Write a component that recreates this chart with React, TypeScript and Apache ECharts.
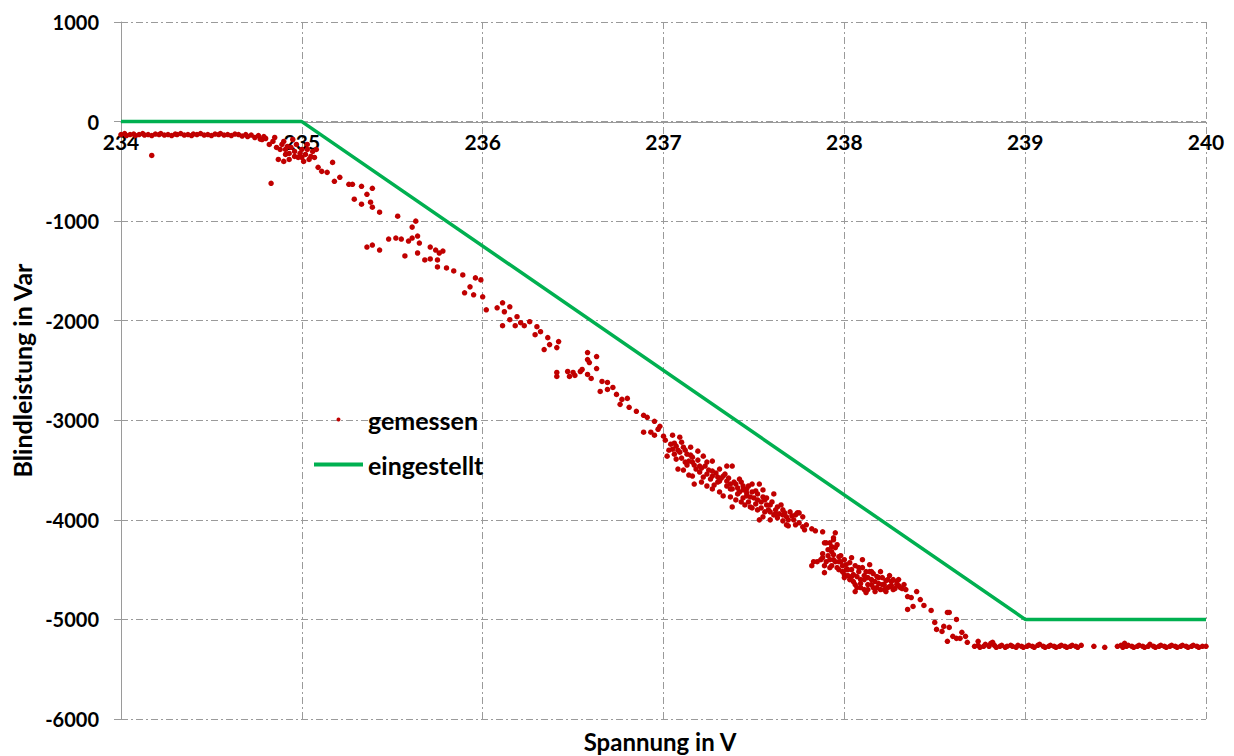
import React, { useEffect, useRef } from "react";
import * as echarts from "echarts";

const xTicks = [234, 235, 236, 237, 238, 239, 240];
const yTicks = [-6000, -5000, -4000, -3000, -2000, -1000, 0, 1000];

// eingestellt (set characteristic)
const setCurve: [number, number][] = [
  [234, 0], [235, 0], [239, -5000], [240, -5000],
];

const measuredStart: [number, number][] = [
  [234.00, -130], [234.02, -120], [234.03, -140], [234.05, -130], [234.07, -125], [234.08, -140],
  [234.10, -130], [234.12, -120], [234.13, -135], [234.15, -130], [234.17, -140], [234.19, -125],
  [234.21, -130], [234.22, -120], [234.24, -135], [234.26, -130], [234.28, -140], [234.30, -125],
  [234.31, -130], [234.33, -120], [234.35, -135], [234.37, -130], [234.39, -140], [234.40, -125],
  [234.42, -130], [234.44, -120], [234.46, -135], [234.48, -130], [234.50, -140], [234.52, -125],
  [234.54, -130], [234.55, -120], [234.57, -135], [234.59, -130], [234.61, -140], [234.63, -125],
  [234.65, -130], [234.67, -145], [234.69, -130], [234.70, -150], [234.72, -135], [234.74, -160],
  [234.76, -140], [234.77, -175], [234.79, -150],
  [234.17, -340], [234.83, -620],
];

const measuredKnee: [number, number][] = [
  [234.78, -180], [234.82, -230], [234.85, -160], [234.88, -280], [234.90, -200], [234.91, -330],
  [234.92, -250], [234.93, -380], [234.95, -180], [234.96, -300], [234.97, -230], [234.98, -360],
  [235.00, -280], [235.01, -400], [235.02, -330], [235.03, -230], [235.04, -380], [235.06, -300],
  [235.07, -360], [235.08, -280], [234.87, -380], [234.90, -400],
  [234.80, -170], [234.84, -200], [234.86, -260], [234.89, -230], [234.91, -280], [234.94, -260],
  [234.96, -350], [234.99, -320], [235.00, -360], [235.03, -280], [235.05, -350], [234.93, -320],
];

const measuredSlope1: [number, number][] = [
  [235.09, -460], [235.11, -500], [235.14, -510], [235.17, -410], [235.18, -600], [235.21, -560],
  [235.26, -630], [235.28, -630], [235.33, -650], [235.39, -670], [235.36, -730], [235.29, -780],
  [235.33, -830], [235.38, -810], [235.39, -860], [235.43, -910], [235.53, -950], [235.63, -1000],
  [235.61, -1060], [235.64, -1150], [235.36, -1260], [235.39, -1240], [235.43, -1290], [235.48, -1180],
  [235.52, -1170], [235.55, -1180], [235.59, -1200], [235.61, -1170], [235.57, -1350], [235.64, -1320],
  [235.65, -1220], [235.68, -1390], [235.71, -1260], [235.74, -1290], [235.76, -1320], [235.78, -1300],
  [235.75, -1390], [235.71, -1380], [235.75, -1460], [235.80, -1470], [235.84, -1500], [235.89, -1540],
  [235.96, -1570], [235.99, -1590], [235.93, -1660], [235.90, -1720], [235.95, -1740], [236.00, -1760],
  [236.02, -1890], [236.08, -1870], [236.11, -1820], [236.15, -1860], [236.12, -1910], [236.19, -1960],
  [236.11, -2050], [236.15, -1990], [236.18, -2050], [236.21, -2020], [236.23, -2050], [236.26, -2010],
  [236.30, -2060], [236.29, -2140], [236.32, -2110], [236.36, -2170], [236.37, -2240], [236.34, -2290],
  [236.41, -2270], [236.42, -2210], [236.41, -2520], [236.47, -2510], [236.50, -2520], [236.54, -2510],
  [236.58, -2540], [236.58, -2320], [236.58, -2390], [236.59, -2420], [236.63, -2360], [236.63, -2480],
  [236.51, -2550], [236.55, -2490], [236.48, -2560], [236.41, -2560],
];

const measuredSlope2: [number, number][] = [
  [236.60, -2580], [236.66, -2610], [236.69, -2620], [236.65, -2710], [236.69, -2690], [236.72, -2670],
  [236.74, -2740], [236.77, -2790], [236.80, -2780], [236.76, -2840], [236.81, -2870], [236.85, -2910],
  [236.89, -2950], [236.91, -2970], [236.95, -3010], [236.98, -3060], [236.97, -3090], [236.89, -3120],
  [236.93, -3120], [236.95, -3150], [237.00, -3160], [237.05, -3150], [237.09, -3170], [237.04, -3240],
  [237.07, -3260], [237.11, -3270], [237.02, -3360], [237.06, -3340], [237.09, -3320], [237.13, -3340],
  [237.16, -3370], [237.19, -3310], [237.08, -3490], [237.12, -3420], [237.16, -3420], [237.20, -3460],
  [237.24, -3420], [237.22, -3360], [237.27, -3410], [237.16, -3560], [237.17, -3640], [237.20, -3520],
  [237.24, -3540], [237.27, -3510], [237.31, -3490], [237.35, -3460], [237.38, -3460], [237.30, -3570],
  [237.33, -3560], [237.24, -3660], [237.27, -3690], [237.31, -3720], [237.35, -3660], [237.38, -3690],
  [237.42, -3590], [237.44, -3660], [237.46, -3690], [237.49, -3640], [237.53, -3640], [237.37, -3770],
  [237.41, -3740], [237.44, -3780], [237.48, -3770], [237.52, -3800], [237.55, -3770], [237.61, -3740],
  [237.38, -3870], [237.45, -3850], [237.49, -3880], [237.52, -3900], [237.57, -3850], [237.59, -3920],
  [237.63, -3870], [237.66, -3900], [237.70, -3920], [237.55, -3970], [237.63, -3980], [237.68, -3970],
  [237.72, -4000], [237.69, -4060], [237.75, -4030], [237.79, -4050], [237.75, -3930], [237.82, -4090],
  [237.88, -4120], [237.95, -4130], [237.94, -4180], [237.90, -4230], [237.93, -4270],
  [237.05, -3290], [237.07, -3390], [237.10, -3220], [237.14, -3410], [237.15, -3270], [237.18, -3490],
  [237.22, -3570], [237.26, -3590], [237.31, -3610], [237.35, -3610], [237.37, -3690], [237.40, -3640],
  [237.42, -3720], [237.46, -3730], [237.40, -3800], [237.51, -3710], [237.47, -3820], [237.51, -3840],
  [237.54, -3880], [237.56, -3800], [237.59, -3850], [237.62, -3940], [237.66, -3950], [237.59, -4000],
  [237.73, -3950], [237.78, -4100], [237.84, -4110], [237.53, -4000],
];

const measuredBand: [number, number][] = [
  [237.01, -3200], [237.03, -3300], [237.06, -3230], [237.08, -3300], [237.10, -3380], [237.12, -3300],
  [237.13, -3450], [237.15, -3350], [237.17, -3450], [237.19, -3400], [237.21, -3480], [237.23, -3460],
  [237.25, -3500], [237.27, -3560], [237.29, -3530], [237.30, -3620], [237.32, -3580], [237.34, -3540],
  [237.36, -3580], [237.37, -3640], [237.39, -3620], [237.41, -3680], [237.43, -3620], [237.44, -3700],
  [237.46, -3760], [237.47, -3660], [237.49, -3720], [237.50, -3780], [237.52, -3740], [237.54, -3820],
  [237.55, -3700], [237.57, -3780], [237.58, -3900], [237.60, -3820], [237.62, -3900], [237.64, -3940],
  [237.65, -3850], [237.67, -3930], [237.69, -4000], [237.71, -3960], [237.11, -3500], [237.14, -3550],
  [237.21, -3620], [237.28, -3650], [237.33, -3760], [237.43, -3820], [237.48, -3870], [237.56, -3920],
  [237.61, -3950], [237.66, -4010],
];

const measuredCluster: [number, number][] = [
  [237.74, -3930], [237.77, -3970], [237.68, -4050], [237.73, -4050], [237.77, -4070], [237.89, -4230],
  [237.92, -4230], [237.94, -4200], [237.83, -4420], [237.88, -4380], [237.92, -4400], [237.94, -4350],
  [237.97, -4370], [237.89, -4530], [237.92, -4480],
  [237.88, -4340], [237.90, -4420], [237.93, -4320], [237.95, -4420], [237.98, -4360], [237.99, -4460],
  [238.00, -4400], [238.02, -4500], [238.03, -4430], [238.05, -4550], [238.06, -4460], [238.08, -4520],
  [238.09, -4600], [238.10, -4480], [238.11, -4560], [238.13, -4650], [238.14, -4520], [238.15, -4600],
  [238.16, -4680], [238.18, -4570], [238.19, -4640], [238.20, -4700], [238.21, -4580], [238.22, -4650],
  [238.23, -4720], [238.24, -4600], [238.25, -4670], [238.26, -4620], [238.27, -4700], [238.29, -4650],
  [238.30, -4600], [238.31, -4680], [238.00, -4550], [238.03, -4600], [238.06, -4650], [238.09, -4680],
  [237.97, -4500], [238.00, -4580], [238.13, -4700], [238.17, -4720], [238.10, -4400], [238.14, -4450],
  [238.20, -4520], [238.25, -4560], [238.04, -4380], [237.91, -4300], [237.95, -4280], [238.06, -4720],
  [238.12, -4730], [237.85, -4420], [237.82, -4460], [237.96, -4250],
];

const measuredBlob: [number, number][] = [
  [237.87, -4400], [237.89, -4460], [237.91, -4360], [237.93, -4460], [237.94, -4400], [237.96, -4480],
  [237.97, -4420], [237.99, -4520], [238.01, -4450], [238.02, -4560], [238.04, -4500], [238.05, -4620],
  [238.07, -4570], [238.08, -4480], [238.09, -4640], [238.11, -4600], [238.12, -4520], [238.13, -4580],
  [238.15, -4650], [238.16, -4540], [238.17, -4620], [238.18, -4680], [238.19, -4580], [238.21, -4650],
  [238.22, -4700], [238.23, -4610], [238.24, -4680], [238.26, -4660], [238.27, -4600], [238.28, -4690],
  [238.29, -4620], [238.30, -4660], [238.33, -4650], [238.34, -4700], [238.07, -4680], [238.11, -4700],
  [238.01, -4500], [237.98, -4420], [238.04, -4570], [238.15, -4520],
];

const measuredTail: [number, number][] = [
  [238.32, -4690], [238.35, -4770], [238.37, -4780], [238.40, -4720], [238.42, -4800], [238.35, -4900],
  [238.38, -4870], [238.44, -4860], [238.48, -4910], [238.50, -5030], [238.51, -5100], [238.55, -5070],
  [238.57, -4930], [238.58, -4930], [238.62, -5000], [238.54, -5120], [238.58, -5080], [238.57, -5220],
  [238.60, -5170], [238.64, -5190], [238.65, -5130], [238.67, -5170], [238.62, -5190], [238.68, -5230],
  [238.74, -5220],
];

const measuredEnd: [number, number][] = [
  [238.72, -5270], [238.74, -5260], [238.75, -5280], [238.77, -5270], [238.78, -5250], [238.80, -5270],
  [238.81, -5240], [238.83, -5260], [238.84, -5280], [238.86, -5270], [238.87, -5260], [238.89, -5280],
  [238.90, -5270], [238.92, -5260], [238.93, -5270], [238.95, -5280], [238.96, -5260], [238.98, -5270],
  [238.99, -5280], [239.01, -5270], [239.02, -5260], [239.04, -5270], [239.05, -5280], [239.07, -5260],
  [239.08, -5250], [239.10, -5270], [239.11, -5280], [239.13, -5270], [239.14, -5260], [239.16, -5270],
  [239.17, -5280], [239.19, -5270], [239.20, -5260], [239.22, -5270], [239.23, -5280], [239.25, -5270],
  [239.26, -5260], [239.28, -5270], [239.29, -5280],
  [239.31, -5260], [239.38, -5270], [239.44, -5280],
  [239.51, -5270], [239.53, -5260], [239.54, -5280], [239.56, -5270], [239.57, -5260], [239.59, -5270],
  [239.60, -5280], [239.62, -5270], [239.63, -5260], [239.65, -5270], [239.66, -5280], [239.68, -5270],
  [239.69, -5250], [239.71, -5270], [239.72, -5280], [239.74, -5270], [239.75, -5260], [239.77, -5270],
  [239.78, -5280], [239.80, -5270], [239.81, -5260], [239.83, -5270], [239.84, -5280], [239.86, -5270],
  [239.87, -5260], [239.89, -5270], [239.90, -5280], [239.92, -5270], [239.93, -5260], [239.95, -5270],
  [239.96, -5280], [239.98, -5270], [240.00, -5270], [238.82, -5230], [239.55, -5240],
];

const measured = [
  ...measuredStart, ...measuredKnee, ...measuredSlope1, ...measuredSlope2, ...measuredBand,
  ...measuredCluster, ...measuredBlob, ...measuredTail, ...measuredEnd,
];

const FONT = "Lato, 'Open Sans', sans-serif";
const GRID_COLOR = "#9a9a9a";
const DASH = [7, 3, 2, 3];

export default function App() {
  const ref = useRef<HTMLDivElement>(null);
  useEffect(() => {
    if (!ref.current) return;
    const chart = echarts.init(ref.current, null, { renderer: "svg" });
    chart.setOption({
      animation: false,
      backgroundColor: "#ffffff",
      grid: { left: 121, right: 28, top: 22, bottom: 37, containLabel: false },
      legend: {
        left: 309,
        top: 402,
        orient: "vertical",
        itemWidth: 49,
        itemHeight: 4,
        itemGap: 20,
        textStyle: { fontFamily: FONT, fontWeight: "bold", fontSize: 25, color: "#000" },
        data: [
          { name: "gemessen", icon: "circle" },
          { name: "eingestellt", icon: "rect" },
        ],
      },
      xAxis: {
        type: "value",
        position: "bottom",
        offset: -597,
        min: xTicks[0],
        max: xTicks[xTicks.length - 1],
        interval: 1,
        axisLine: { show: true, onZero: false, lineStyle: { color: GRID_COLOR, width: 1 } },
        axisTick: { show: false },
        axisLabel: {
          margin: 9,
          fontFamily: FONT,
          fontWeight: "bold",
          fontSize: 21,
          color: "#000",
          formatter: (v: number) => String(v),
        },
        splitLine: { show: true, lineStyle: { color: GRID_COLOR, type: DASH, width: 1 } },
      },
      yAxis: {
        type: "value",
        min: yTicks[0],
        max: yTicks[yTicks.length - 1],
        interval: 1000,
        name: "Blindleistung in Var",
        nameLocation: "middle",
        nameGap: 86,
        nameRotate: 90,
        nameTextStyle: { fontFamily: FONT, fontWeight: "bold", fontSize: 25, color: "#000" },
        axisLine: { show: true, onZero: false, lineStyle: { color: GRID_COLOR, width: 1 } },
        axisTick: { show: true, inside: false, length: 7, lineStyle: { color: GRID_COLOR } },
        axisLabel: {
          margin: 22,
          fontFamily: FONT,
          fontWeight: "bold",
          fontSize: 20,
          color: "#000",
          formatter: (v: number) => String(v),
        },
        splitLine: { show: true, lineStyle: { color: GRID_COLOR, type: DASH, width: 1 } },
      },
      graphic: [
        {
          type: "text",
          x: 660,
          y: 741,
          style: {
            text: "Spannung in V",
            fontFamily: FONT,
            fontWeight: "bold",
            fontSize: 24,
            fill: "#000",
            align: "center",
            verticalAlign: "middle",
          },
        },
      ],
      series: [
        {
          name: "gemessen",
          type: "scatter",
          data: measured,
          symbol: "circle",
          symbolSize: 5.5,
          itemStyle: { color: "#C00000", opacity: 1 },
          z: 3,
        },
        {
          name: "eingestellt",
          type: "line",
          data: setCurve,
          showSymbol: false,
          symbol: "none",
          lineStyle: { color: "#00B050", width: 3.5 },
          itemStyle: { color: "#00B050" },
          z: 4,
        },
      ],
    });
    return () => chart.dispose();
  }, []);
  return (
    <div
      ref={ref}
      style={{ position: "fixed", left: 0, top: 0, width: 1234, height: 756, background: "#fff" }}
    />
  );
}
